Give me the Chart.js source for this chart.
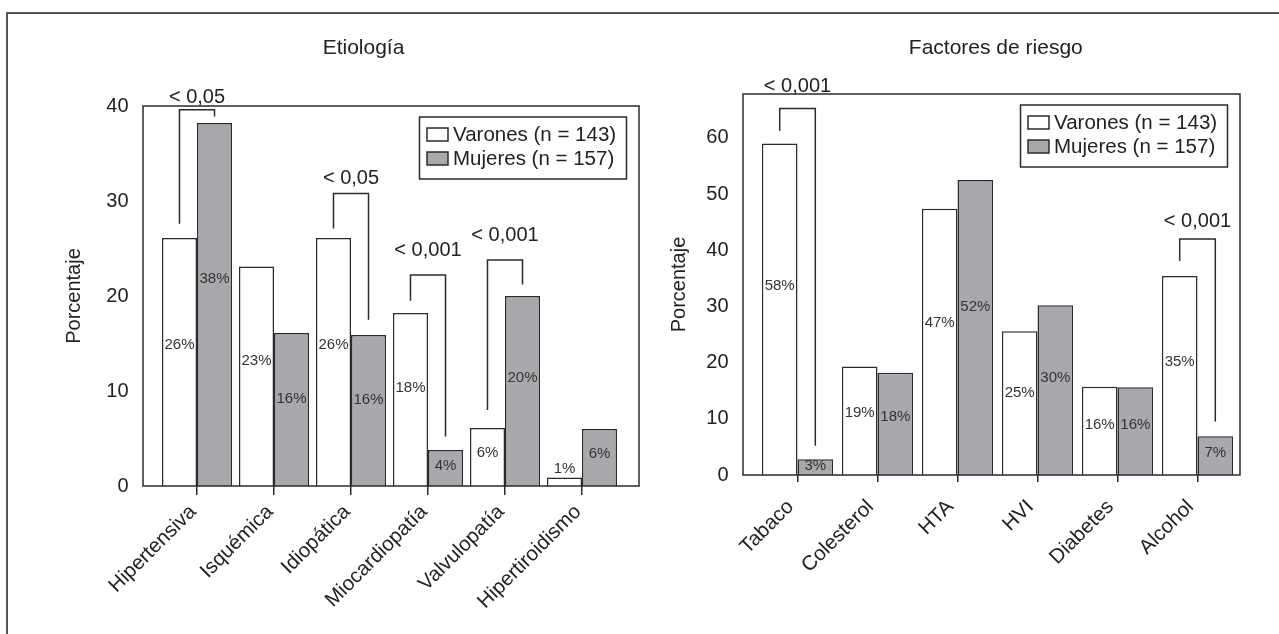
<!DOCTYPE html>
<html>
<head>
<meta charset="utf-8">
<script src="https://cdn.jsdelivr.net/npm/chart.js@4.4.0/dist/chart.umd.min.js"></script>
<style>
  html, body { margin: 0; padding: 0; background: #fff; }
  body { width: 1279px; height: 634px; position: relative; overflow: hidden; }
  #frame { position: absolute; left: 6px; top: 12px; width: 1400px; height: 700px;
           border-left: 2px solid #555; border-top: 2px solid #555; }
  #c1 { position: absolute; left: 0; top: 0; }
  #c2 { position: absolute; left: 640px; top: 0; }
</style>
</head>
<body>
<div id="frame"></div>
<canvas id="c1" width="640" height="634"></canvas>
<canvas id="c2" width="639" height="634"></canvas>
<script>
// series names (legend)
const seriesNames = ['Varones (n = 143)', 'Mujeres (n = 157)'];

// Etiología
const etioCats = ['Hipertensiva', 'Isquémica', 'Idiopática', 'Miocardiopatía', 'Valvulopatía', 'Hipertiroidismo'];
const etioVarones = [26.1, 23.1, 26.1, 18.2, 6.1, 0.9];
const etioMujeres = [38.2, 16.1, 15.9, 3.8, 20.0, 6.0];
const etioVaronesPct = [26, 23, 26, 18, 6, 1];
const etioMujeresPct = [38, 16, 16, 4, 20, 6];
const etioTicks = [0, 10, 20, 30, 40];
const etioSig = ['< 0,05', '< 0,05', '< 0,001', '< 0,001'];
const etioSigCats = [0, 2, 3, 4];

// Factores de riesgo
const riskCats = ['Tabaco', 'Colesterol', 'HTA', 'HVI', 'Diabetes', 'Alcohol'];
const riskVarones = [59.0, 19.3, 47.4, 25.6, 15.7, 35.4];
const riskMujeres = [2.8, 18.2, 52.5, 30.2, 15.6, 6.9];
const riskVaronesPct = [58, 19, 47, 25, 16, 35];
const riskMujeresPct = [3, 18, 52, 30, 16, 7];
const riskTicks = [0, 10, 20, 30, 40, 50, 60];
const riskSig = ['< 0,001', '< 0,001'];
const riskSigCats = [0, 5];

const FONT = '"Liberation Sans", Arial, Helvetica, sans-serif';
const INK = '#2b2b2b';
const GREY = '#a7a9ac';

// bracket levels in axis units: [top, left leg end, right leg end, text]
const etioBrackets = [[39.6, 27.6, 38.9, 40.9], [30.8, 27.1, 17.5, 32.4], [22.2, 19.5, 5.2, 24.8], [23.8, 8.0, 21.2, 26.4]];
const riskBrackets = [[65.2, 61.2, 5.2, 69.2], [42.0, 38.1, 9.5, 45.2]];

const decorPlugin = {
  id: 'decor',
  afterDatasetsDraw(chart, args, o) {
    const ctx = chart.ctx;
    const a = chart.chartArea;
    const y = chart.scales.y;
    ctx.save();
    // value labels inside the bars
    [0, 1].forEach(d => {
      const meta = chart.getDatasetMeta(d);
      meta.data.forEach((el, i) => {
        const v = chart.data.datasets[d].data[i];
        let py = y.getPixelForValue(v * 0.57);
        if (el.base - el.y < 12) py = el.y - 9;
        ctx.font = '15px ' + FONT;
        ctx.fillStyle = '#333';
        ctx.textAlign = 'center';
        ctx.textBaseline = 'middle';
        ctx.fillText(o.pct[d][i] + '%', el.x, py);
      });
    });
    // frame of the plot
    ctx.strokeStyle = INK;
    ctx.lineWidth = 1.5;
    const bx = a.left - o.padL, bw = a.right + o.padR - bx;
    ctx.strokeRect(bx, a.top, bw, a.bottom - a.top);
    // significance brackets
    o.sigCats.forEach((c, k) => {
      const b = o.brackets[k];
      const x0 = chart.getDatasetMeta(0).data[c].x;
      const x1 = chart.getDatasetMeta(1).data[c].x;
      const yt = y.getPixelForValue(b[0]);
      ctx.beginPath();
      ctx.moveTo(x0, y.getPixelForValue(b[1]));
      ctx.lineTo(x0, yt);
      ctx.lineTo(x1, yt);
      ctx.lineTo(x1, y.getPixelForValue(b[2]));
      ctx.stroke();
      ctx.font = '20px ' + FONT;
      ctx.fillStyle = '#222';
      ctx.textAlign = 'center';
      ctx.textBaseline = 'middle';
      ctx.fillText(o.sig[k], (x0 + x1) / 2, y.getPixelForValue(b[3]));
    });
    // legend
    const lw = 207, lh = 62;
    const lx = a.right + o.padR - 12.5 - lw, ly = a.top + 11;
    ctx.fillStyle = '#fff';
    ctx.fillRect(lx, ly, lw, lh);
    ctx.strokeRect(lx, ly, lw, lh);
    chart.data.datasets.forEach((ds, d) => {
      const ry = ly + 17.5 + d * 24;
      ctx.fillStyle = ds.backgroundColor;
      ctx.fillRect(lx + 7.5, ry - 6.5, 21, 13);
      ctx.strokeRect(lx + 7.5, ry - 6.5, 21, 13);
      ctx.font = '20.5px ' + FONT;
      ctx.fillStyle = '#222';
      ctx.textAlign = 'left';
      ctx.textBaseline = 'middle';
      ctx.fillText(ds.label, lx + 33.5, ry + 1);
    });
    // chart title
    ctx.font = '21px ' + FONT;
    ctx.fillStyle = '#222';
    ctx.textAlign = 'center';
    ctx.textBaseline = 'middle';
    ctx.fillText(o.title, o.titleX, 48);
    ctx.restore();
  }
};

function makeChart(id, L) {
  const el = document.getElementById(id);
  return new Chart(el, {
    type: 'bar',
    data: {
      labels: L.cats,
      datasets: [
        { label: seriesNames[0], data: L.varones, backgroundColor: '#ffffff', borderColor: INK, borderWidth: 1.5 },
        { label: seriesNames[1], data: L.mujeres, backgroundColor: GREY, borderColor: INK, borderWidth: 1.5 }
      ]
    },
    options: {
      responsive: false,
      animation: false,
      events: [],
      layout: { padding: { left: 0, top: L.top, right: el.width - L.right, bottom: 0 } },
      datasets: { bar: { categoryPercentage: L.catPct, barPercentage: 1 } },
      scales: {
        x: {
          offset: true,
          grid: { display: true, drawOnChartArea: false, drawTicks: true, tickLength: L.tickLen, offset: false, color: INK, lineWidth: 1.5 },
          border: { display: false },
          ticks: { minRotation: 45, maxRotation: 45, autoSkip: false, padding: L.xPad, labelOffset: L.xShift, color: '#222', font: { family: FONT, size: 20.5 } },
          afterFit: s => { s.height = el.height - L.bottom; }
        },
        y: {
          min: 0,
          max: L.max,
          grid: { display: false, drawTicks: false },
          border: { display: false },
          afterBuildTicks: s => { s.ticks = L.ticks.map(v => ({ value: v })); },
          ticks: { padding: L.left - L.tickRight, color: '#222', font: { family: FONT, size: 20 } },
          title: { display: true, text: 'Porcentaje', color: '#222', font: { family: FONT, size: 20 }, padding: { top: L.yTitleX - 12, bottom: 0 } },
          afterFit: s => { s.width = L.left; }
        }
      },
      plugins: {
        legend: { display: false },
        tooltip: { enabled: false },
        decor: {
          pct: [L.vPct, L.mPct], sig: L.sig, sigCats: L.sigCats, brackets: L.brackets,
          padL: L.padL, padR: L.padR, title: L.title, titleX: L.titleX
        }
      }
    },
    plugins: [decorPlugin]
  });
}

makeChart('c1', {
  cats: etioCats, varones: etioVarones, mujeres: etioMujeres, vPct: etioVaronesPct, mPct: etioMujeresPct,
  ticks: etioTicks, max: 40, sig: etioSig, sigCats: etioSigCats, brackets: etioBrackets,
  left: 158.5, right: 620.5, top: 106, bottom: 486, padL: 15.5, padR: 18.5, catPct: 0.91,
  tickLen: 9, xPad: 5, xShift: -4,
  tickRight: 128.5, yTitleX: 74, title: 'Etiología', titleX: 363.5
});

makeChart('c2', {
  cats: riskCats, varones: riskVarones, mujeres: riskMujeres, vPct: riskVaronesPct, mPct: riskMujeresPct,
  ticks: riskTicks, max: 67.8, sig: riskSig, sigCats: riskSigCats, brackets: riskBrackets,
  left: 117.5, right: 597.5, top: 94, bottom: 475, padL: 14.5, padR: 2.5, catPct: 0.89,
  tickLen: 7, xPad: 13, xShift: -7,
  tickRight: 88.5, yTitleX: 39, title: 'Factores de riesgo', titleX: 355.8
});
</script>
</body>
</html>
